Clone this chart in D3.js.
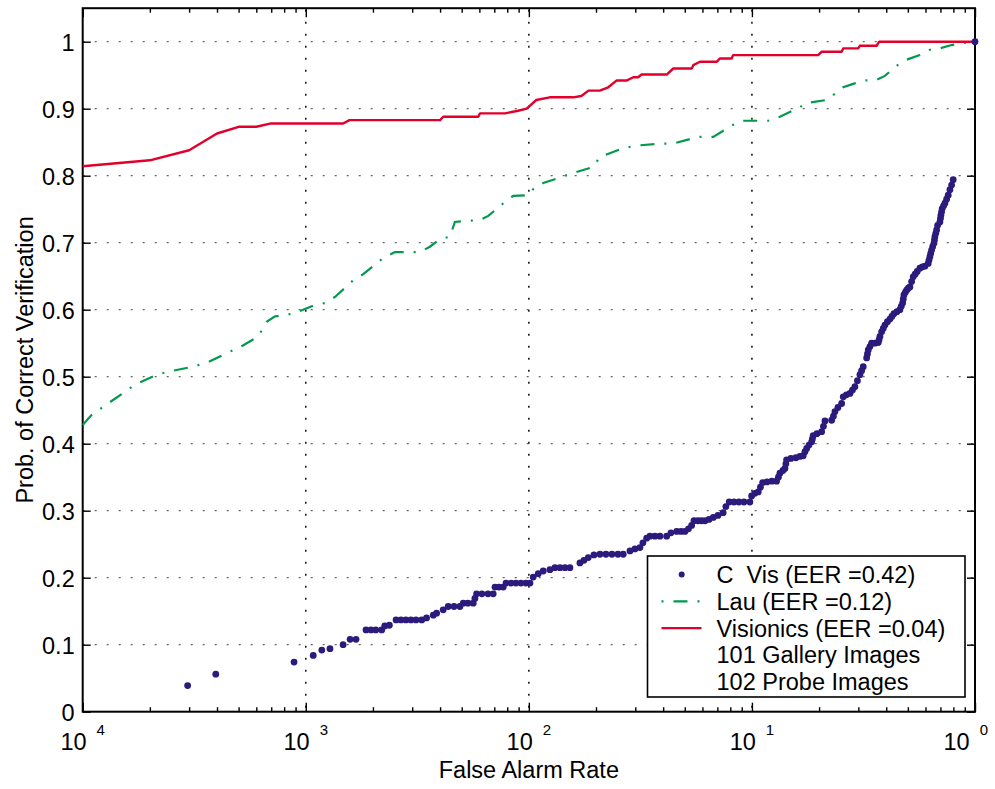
<!DOCTYPE html>
<html>
<head>
<meta charset="utf-8">
<script src="https://cdn.jsdelivr.net/npm/d3@7"></script>
<style>
  html, body { margin: 0; padding: 0; background: #fff; }
  svg { display: block; }
  text { font-family: "Liberation Sans", Arial, Helvetica, sans-serif; }
</style>
</head>
<body>
<div id="chart"></div>
<script>
// ---------------- data ----------------
const xMajorTicks = [1e-4, 1e-3, 1e-2, 1e-1, 1];
const xTickExponents = ["4", "3", "2", "1", "0"];
const yTicks = [0, 0.1, 0.2, 0.3, 0.4, 0.5, 0.6, 0.7, 0.8, 0.9, 1];
const yTickLabels = ["0", "0.1", "0.2", "0.3", "0.4", "0.5", "0.6", "0.7", "0.8", "0.9", "1"];
const legendLabels = ["C  Vis (EER =0.42)", "Lau (EER =0.12)", "Visionics (EER =0.04)", "101 Gallery Images", "102 Probe Images"];
const xLabel = "False Alarm Rate";
const yLabel = "Prob. of Correct Verification";

// Visionics: [false alarm rate, prob. of correct verification]
const visionicsPoints = [
  [1e-4,0.814],[2e-4,0.823],[3e-4,0.838],[4e-4,0.863],[5e-4,0.873],[6e-4,0.873],[7e-4,0.878],
  [1.47e-3,0.878],[1.57e-3,0.883],[4.0e-3,0.883],[4.13e-3,0.888],[5.93e-3,0.888],[6.04e-3,0.893],
  [7.82e-3,0.893],[8.94e-3,0.897],[9.78e-3,0.900],[1.08e-2,0.913],[1.24e-2,0.917],[1.58e-2,0.917],
  [1.72e-2,0.919],[1.85e-2,0.927],[2.08e-2,0.927],[2.27e-2,0.932],[2.47e-2,0.942],[2.74e-2,0.942],
  [2.94e-2,0.947],[3.09e-2,0.947],[3.2e-2,0.951],[4.15e-2,0.951],[4.44e-2,0.960],[5.37e-2,0.960],
  [5.46e-2,0.965],[5.85e-2,0.970],[6.95e-2,0.970],[7.19e-2,0.975],[8.11e-2,0.975],[8.24e-2,0.980],
  [0.198,0.980],[0.2055,0.985],[0.2524,0.985],[0.2566,0.990],[0.2996,0.990],[0.305,0.994],
  [0.362,0.994],[0.372,1.0],[1.0,1.0]
];

// Lau
const lauPoints = [
  [1e-4,0.428],[1.097e-4,0.443],[1.716e-4,0.488],[2.15e-4,0.503],[2.46e-4,0.508],[3.13e-4,0.515],
  [3.66e-4,0.522],[4.42e-4,0.535],[5.25e-4,0.547],[6.12e-4,0.560],[6.68e-4,0.582],[7.28e-4,0.590],
  [8.2e-4,0.592],[9.42e-4,0.598],[1.063e-3,0.605],[1.219e-3,0.610],[1.352e-3,0.619],[1.633e-3,0.644],
  [1.81e-3,0.653],[2.22e-3,0.677],[2.51e-3,0.686],[3.25e-3,0.686],[3.6e-3,0.694],[3.99e-3,0.705],
  [4.43e-3,0.709],[4.66e-3,0.731],[6.04e-3,0.734],[6.58e-3,0.740],[7.82e-3,0.761],[8.51e-3,0.770],
  [9.94e-3,0.771],[1.046e-2,0.780],[1.16e-2,0.789],[1.426e-2,0.799],[1.58e-2,0.804],[1.944e-2,0.813],
  [2.08e-2,0.828],[2.65e-2,0.841],[3.04e-2,0.845],[3.94e-2,0.848],[4.44e-2,0.848],[5.74e-2,0.858],
  [6.71e-2,0.858],[8.24e-2,0.876],[9.0e-2,0.882],[0.1183,0.882],[0.1335,0.888],[0.164,0.902],
  [0.1729,0.908],[0.2162,0.913],[0.2566,0.932],[0.2845,0.937],[0.3153,0.942],[0.362,0.943],
  [0.3945,0.949],[0.4607,0.968],[0.502,0.974],[0.566,0.980],[0.628,0.988],[0.696,0.990],
  [0.785,0.995],[0.885,0.998],[1.0,1.0]
];

// C Vis (dots)
const cvisPoints = [
  [2.954e-4,0.039],[3.95e-4,0.056],[8.86e-4,0.074],[1.08e-3,0.084],[1.18e-3,0.092],[1.284e-3,0.094],
  [1.47e-3,0.100],[1.58e-3,0.108],[1.68e-3,0.108],
  [1.862e-3,0.122],[1.96e-3,0.122],[2.06e-3,0.122],[2.19e-3,0.122],[2.26e-3,0.128],[2.37e-3,0.129],
  [2.54e-3,0.137],[2.67e-3,0.137],[2.81e-3,0.137],[2.96e-3,0.137],[3.12e-3,0.137],[3.31e-3,0.137],
  [3.48e-3,0.140],[3.73e-3,0.144],[3.86e-3,0.147],[4.13e-3,0.152],
  [4.35e-3,0.157],[4.62e-3,0.157],[4.91e-3,0.157],
  [5.08e-3,0.162],[5.33e-3,0.162],[5.63e-3,0.162],[5.73e-3,0.169],
  [5.83e-3,0.176],[6.16e-3,0.176],[6.56e-3,0.176],[6.92e-3,0.176],
  [7.05e-3,0.186],[7.35e-3,0.186],[7.68e-3,0.186],
  [7.9e-3,0.192],[8.32e-3,0.192],[8.75e-3,0.192],[9.22e-3,0.192],[9.7e-3,0.192],[1.012e-2,0.192],
  [1.046e-2,0.201],[1.102e-2,0.206],[1.16e-2,0.210],[1.243e-2,0.212],
  [1.309e-2,0.215],[1.379e-2,0.215],[1.452e-2,0.215],[1.528e-2,0.215],
  [1.694e-2,0.222],[1.766e-2,0.226],[1.846e-2,0.230],[1.958e-2,0.234],
  [2.084e-2,0.235],[2.216e-2,0.235],[2.358e-2,0.235],[2.508e-2,0.235],[2.649e-2,0.235],
  [2.84e-2,0.240],[2.99e-2,0.243],[3.148e-2,0.245],[3.246e-2,0.252],[3.374e-2,0.259],
  [3.49e-2,0.262],[3.675e-2,0.262],[3.87e-2,0.262],[4.147e-2,0.262],
  [4.335e-2,0.267],[4.6e-2,0.269],[4.81e-2,0.269],[5.01e-2,0.269],
  [5.195e-2,0.273],[5.367e-2,0.278],[5.5e-2,0.285],[5.73e-2,0.285],[5.94e-2,0.285],[6.16e-2,0.285],
  [6.42e-2,0.287],[6.71e-2,0.290],[7.04e-2,0.293],[7.43e-2,0.297],[7.64e-2,0.306],[7.91e-2,0.313],
  [8.31e-2,0.313],[8.74e-2,0.313],[9.21e-2,0.313],[9.79e-2,0.313],
  [9.97e-2,0.322],[0.1031,0.326],[0.1067,0.328],[0.1092,0.335],[0.1117,0.342],[0.1168,0.343],
  [0.1229,0.344],[0.129,0.344],
  [0.1314,0.350],[0.1335,0.356],[0.1377,0.360],[0.1406,0.363],[0.142,0.370],[0.143,0.376],
  [0.1495,0.378],[0.1575,0.379],[0.1641,0.381],[0.1698,0.382],
  [0.1729,0.388],[0.176,0.393],[0.1802,0.398],[0.1853,0.403],[0.1866,0.407],[0.1882,0.412],
  [0.1956,0.415],[0.2054,0.418],
  [0.2092,0.426],[0.2125,0.434],[0.2277,0.435],[0.2319,0.441],[0.2356,0.448],[0.2430,0.454],[0.2524,0.460],
  [0.2566,0.470],[0.2652,0.473],[0.275,0.475],[0.2822,0.480],[0.2895,0.485],[0.2971,0.494],
  [0.3049,0.503],[0.3103,0.509],[0.3155,0.515],
  [0.3268,0.528],[0.3295,0.534],[0.3322,0.540],[0.338,0.545],[0.344,0.550],[0.356,0.550],
  [0.3683,0.551],[0.3715,0.555],[0.3748,0.560],
  [0.3814,0.567],[0.3878,0.572],[0.3946,0.577],[0.4049,0.582],[0.4155,0.586],[0.424,0.590],[0.4330,0.594],
  [0.4467,0.597],[0.4607,0.600],[0.467,0.605],[0.4737,0.610],[0.477,0.616],[0.4801,0.622],[0.487,0.626],
  [0.4936,0.629],[0.502,0.632],[0.5107,0.634],
  [0.5198,0.642],[0.5284,0.649],[0.539,0.653],[0.5507,0.657],[0.5662,0.662],[0.581,0.664],[0.5963,0.665],
  [0.6169,0.669],[0.622,0.674],[0.6279,0.679],[0.633,0.684],[0.6389,0.689],[0.646,0.694],[0.6544,0.699],
  [0.658,0.704],[0.6611,0.709],[0.667,0.714],[0.6729,0.719],[0.6798,0.726],
  [0.6961,0.731],[0.700,0.736],[0.7034,0.741],[0.708,0.746],[0.7129,0.751],[0.723,0.755],[0.7330,0.759],
  [0.7459,0.765],[0.7584,0.771],
  [0.7718,0.779],[0.7854,0.786],[0.7984,0.794],
  [1.0,1.0]
];

// ---------------- drawing ----------------
const W = 995, H = 789;
const L = 82.7, R = 975, T = 8.2, B = 711.7;
const RED = "#e2002b", GREEN = "#00994d", BLUE = "#2c1a7c";
const FS = 23.5;

const svg = d3.select("#chart").append("svg")
  .attr("width", W).attr("height", H)
  .attr("viewBox", `0 0 ${W} ${H}`)
  .style("background", "#fff");

const x = d3.scaleLog().domain([1e-4, 1]).range([L, R]);
const y = d3.scaleLinear().domain([0, 1.05]).range([B, T]);

// grid
const grid = svg.append("g");
grid.selectAll("line.h").data(yTicks.filter(d => d > 0)).join("line")
  .attr("x1", L).attr("x2", R)
  .attr("y1", d => y(d)).attr("y2", d => y(d))
  .attr("stroke", "#666").attr("stroke-width", 1.3)
  .attr("stroke-dasharray", "2,10").attr("stroke-dashoffset", -12);
grid.selectAll("line.v").data(xMajorTicks.slice(1, -1)).join("line")
  .attr("x1", d => x(d)).attr("x2", d => x(d))
  .attr("y1", B).attr("y2", T)
  .attr("stroke", "#111").attr("stroke-width", 1.5)
  .attr("stroke-dasharray", "2,10").attr("stroke-dashoffset", -4);

// minor x ticks
const xMinor = [];
for (let e = -4; e < 0; e++) for (let m = 2; m <= 9; m++) xMinor.push(m * Math.pow(10, e));

function styleAxis(g) {
  g.select(".domain").remove();
  g.selectAll(".tick line").attr("stroke", "#000").attr("stroke-width", 1.4);
}

svg.append("g").attr("transform", `translate(0,${B})`)
  .call(d3.axisBottom(x).tickValues(xMajorTicks).tickSize(-9).tickFormat(""))
  .call(styleAxis);
svg.append("g").attr("transform", `translate(0,${B})`)
  .call(d3.axisBottom(x).tickValues(xMinor).tickSize(-4.5).tickFormat(""))
  .call(styleAxis);
svg.append("g").attr("transform", `translate(0,${T})`)
  .call(d3.axisTop(x).tickValues(xMajorTicks).tickSize(-9).tickFormat(""))
  .call(styleAxis);
svg.append("g").attr("transform", `translate(0,${T})`)
  .call(d3.axisTop(x).tickValues(xMinor).tickSize(-4.5).tickFormat(""))
  .call(styleAxis);

const yAxisL = svg.append("g").attr("transform", `translate(${L},0)`)
  .call(d3.axisLeft(y).tickValues(yTicks).tickSize(-8).tickPadding(8)
        .tickFormat((d, i) => yTickLabels[i]))
  .call(styleAxis);
yAxisL.selectAll(".tick text")
  .attr("fill", "#000").style("font-size", FS + "px")
  .attr("font-family", null).attr("dy", "0.36em");
svg.append("g").attr("transform", `translate(${R},0)`)
  .call(d3.axisRight(y).tickValues(yTicks).tickSize(-8).tickFormat(""))
  .call(styleAxis);

// x tick labels: 10 with superscript exponent
const xl = svg.append("g");
xMajorTicks.forEach((v, i) => {
  const last = i === xMajorTicks.length - 1;
  const t = xl.append("text")
    .attr("x", last ? W - 7 : x(v)).attr("y", 750)
    .attr("text-anchor", last ? "end" : "middle")
    .style("font-size", FS + "px").attr("fill", "#000");
  t.append("tspan").text("10");
  t.append("tspan").attr("dx", 10).attr("dy", -15)
    .style("font-size", "15px").text(xTickExponents[i]);
});

// box
svg.append("rect").attr("x", L).attr("y", T)
  .attr("width", R - L).attr("height", B - T)
  .attr("fill", "none").attr("stroke", "#000").attr("stroke-width", 2);

// axis titles
svg.append("text").attr("x", (L + R) / 2).attr("y", 778)
  .attr("text-anchor", "middle").style("font-size", FS + "px").text(xLabel);
svg.append("text")
  .attr("transform", `translate(33,${(T + B) / 2}) rotate(-90)`)
  .attr("text-anchor", "middle").style("font-size", FS + "px").text(yLabel);

// series
const line = d3.line().x(d => x(d[0])).y(d => y(d[1]));
svg.append("path").datum(lauPoints).attr("d", line)
  .attr("fill", "none").attr("stroke", GREEN).attr("stroke-width", 2.2)
  .attr("stroke-dasharray", "14,10,2,10");
svg.append("path").datum(visionicsPoints).attr("d", line)
  .attr("fill", "none").attr("stroke", RED).attr("stroke-width", 2.4)
  .attr("stroke-linejoin", "round");
svg.append("g").selectAll("circle").data(cvisPoints).join("circle")
  .attr("cx", d => x(d[0])).attr("cy", d => y(d[1])).attr("r", 3.4)
  .attr("fill", BLUE);

// legend
const lg = svg.append("g");
lg.append("rect").attr("x", 647.5).attr("y", 556).attr("width", 317.5).attr("height", 141)
  .attr("fill", "#fff").attr("stroke", "#000").attr("stroke-width", 1.6);
const rowY = i => 574.5 + i * 26.8;
lg.append("circle").attr("cx", 681.7).attr("cy", rowY(0)).attr("r", 3).attr("fill", BLUE);
lg.append("line").attr("x1", 661.5).attr("x2", 701.5).attr("y1", rowY(1)).attr("y2", rowY(1))
  .attr("stroke", GREEN).attr("stroke-width", 2.2)
  .attr("stroke-dasharray", "14,10,2,10").attr("stroke-dashoffset", 24);
lg.append("line").attr("x1", 661.5).attr("x2", 701.5).attr("y1", rowY(2)).attr("y2", rowY(2))
  .attr("stroke", RED).attr("stroke-width", 2.4);
legendLabels.forEach((s, i) => {
  lg.append("text").attr("x", 716.5).attr("y", rowY(i)).attr("dy", "0.36em")
    .style("font-size", FS + "px").style("white-space", "pre").text(s);
});
</script>
</body>
</html>
